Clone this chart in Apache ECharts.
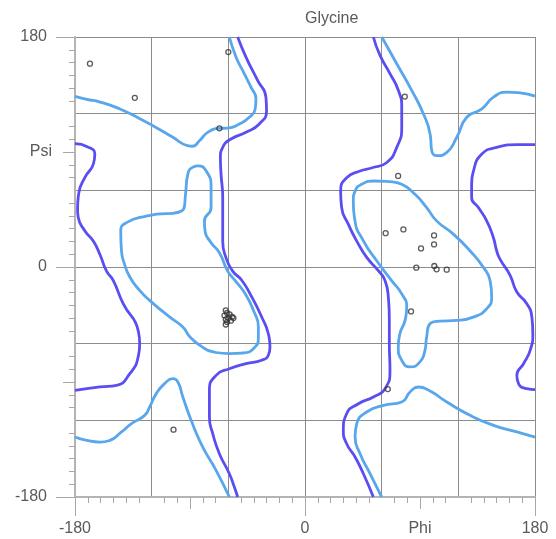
<!DOCTYPE html>
<html><head><meta charset="utf-8">
<script src="https://cdn.jsdelivr.net/npm/echarts@6/dist/echarts.min.js"></script>
<style>html,body{margin:0;padding:0;background:#fff}#c{width:556px;height:539px}</style>
</head><body><div id="c"></div>
<script>
const titleText = 'Glycine';
const xName = 'Phi';
const yName = 'Psi';
const endLabels = [-180, 0, 180];

// contours, [phi, psi] in degrees
const lightUpperLeft = [[-180,133.5],[-170.8,131.2],[-160.4,129.1],[-144.9,123.7],[-132,117.5],[-119.0,110.6],[-103.4,101.5],[-92,95],[-88,94.5],[-82.6,98.8],[-76.1,105.4],[-67,108.5],[-60.5,108.7],[-51.4,111.9],[-43.6,117.2],[-39.0,123.7],[-38.4,131.6],[-42.3,140.7],[-48.8,153.8],[-54.0,164.3],[-59.2,180]];
const lightLowerLeft = [[-180,-133.1],[-170.9,-135.7],[-160.5,-137.0],[-152.7,-135.7],[-143.6,-129.1],[-135.8,-122.6],[-125.5,-116.1],[-121.6,-109.6],[-116.4,-99.1],[-109.9,-91.3],[-103.4,-87.4],[-99.5,-90.0],[-95.6,-101.7],[-89.1,-120.0],[-80.0,-140.9],[-69.6,-159.1],[-59.2,-180]];
const lightAlphaR = [[-108.6,41.8],[-95.1,45.2],[-93.5,57.0],[-91.7,72.7],[-87,78.5],[-83.9,79.2],[-77.4,75.3],[-73.5,62.2],[-73.5,46.5],[-78.7,36.0],[-78.2,28.2],[-73.5,19.0],[-67.0,11.2],[-60.5,-3.2],[-54.8,-10.4],[-46.9,-20.8],[-40.4,-33.9],[-36.5,-47.0],[-36.5,-56.0],[-40.4,-63.9],[-48.3,-67.3],[-58.7,-67.8],[-71.8,-66.5],[-82.2,-61.3],[-90.0,-54.8],[-95.6,-47.0],[-106.0,-39.1],[-121.6,-26.1],[-129.4,-18.3],[-137.1,-7.8],[-141.5,3],[-143.6,12.5],[-144.2,28.2],[-139.7,34.7],[-124.2,39.9],[-108.6,41.8]];
const darkLeftMain = [[-52.7,180],[-46.2,164.3],[-37.1,146.0],[-30.6,132.9],[-30.1,122.4],[-35.8,111.9],[-46.2,105.4],[-57.9,100.2],[-64.4,93.6],[-66.2,85.8],[-65.7,72.7],[-64.4,54.3],[-64.4,36.0],[-64.4,20.3],[-61.8,7.2],[-56.6,-3.2],[-49.5,-10.4],[-41.7,-23.4],[-33.9,-39.1],[-28.7,-52.2],[-27.4,-62.6],[-28.7,-69.1],[-33.9,-73.0],[-46.2,-75.7],[-59.2,-79.6],[-69.6,-84.8],[-74.8,-96.5],[-74.8,-117.4],[-72.2,-130.4],[-67.0,-146.1],[-59.2,-161.8],[-55.3,-172.2],[-52.7,-180]];
const darkLeftEdge = [[-180,96.5],[-170,94],[-164.5,88.5],[-165.5,81],[-172,70.5],[-177,58],[-178,45],[-177.4,38.6],[-172.2,28.2],[-165.7,20.3],[-160.5,9.8],[-155.3,-3.2],[-150.1,-10.4],[-142.3,-28.7],[-130.6,-49.6],[-129.4,-60.0],[-130.6,-70.4],[-137.1,-83.5],[-147.5,-92.6],[-160.5,-93.9],[-180,-96.5]];
const darkRightMain = [[53.5,180],[58.7,165.6],[66.6,151.2],[73.1,138.1],[75.7,125.0],[75.7,109.3],[71.8,93.6],[64.0,81.8],[52,77.5],[43.0,75.1],[32.6,69.9],[27.9,59.5],[28.7,46.5],[33.9,33.5],[40.4,20.5],[48.3,7.5],[57.4,-2.9],[62.6,-10.6],[65.2,-23.6],[66.0,-41.8],[66.0,-60.0],[66.5,-80.8],[62.7,-95.2],[53.5,-101.7],[41.8,-107.0],[32.6,-114.8],[30.0,-127.8],[32.6,-138.3],[39.2,-148.7],[45.7,-161.8],[53.5,-180]];
const lightUpperRight = [[60.1,180],[71.8,159.1],[83.6,138.1],[92.7,119.8],[97.9,104.1],[99.2,91.0],[103.1,87.1],[111.0,89.7],[118.8,101.5],[126.6,117.2],[138.4,123.7],[147.5,132.9],[158.0,136.8],[168.4,136.3],[180,133.7]];
const lightLowerRight = [[180,-133.1],[165.8,-129.1],[147.5,-123.9],[129.2,-116.1],[111.0,-105.7],[97.9,-97.1],[88.8,-93.9],[82.2,-97.8],[75.7,-105.7],[61.4,-108.3],[48.3,-113.5],[40.5,-122.6],[39.2,-133.1],[43.1,-146.1],[50.9,-161.8],[58.7,-177.4],[60.1,-180]];
const lightAlphaL = [[105.7,-42.3],[118.7,-41.8],[131.7,-39.2],[142.2,-32.7],[146.1,-23.6],[144.8,-10.6],[139.6,-0.3],[129.1,12.7],[116.1,25.7],[103.0,36.1],[95.2,46.5],[86.1,56.9],[75.7,64.7],[66.5,66.8],[53.5,67.3],[44.3,64.7],[39.5,60],[37.8,51.7],[39.1,36.1],[45.7,20.5],[56.1,4.9],[67.8,-10.6],[75.7,-21.0],[79.6,-31.4],[78.3,-41.8],[74.3,-52.2],[73.0,-62.6],[75.7,-73.0],[82.2,-78.2],[88.7,-75.6],[93.9,-65.2],[95.2,-54.8],[97.8,-44.4],[105.7,-42.3]];
const darkRightEdge = [[180,95.7],[165.8,95.7],[150.1,93.6],[138.4,88.4],[131.9,75.3],[130.4,64.7],[130.4,54.3],[135.7,46.5],[142.2,36.1],[147.4,23.1],[150.0,12.7],[152.6,6.2],[160.5,-6.5],[165.8,-19.6],[173.6,-28.7],[177.5,-39.1],[178.3,-52.2],[176.2,-65.2],[171.0,-75.7],[165.8,-84.8],[167.1,-91.3],[173.6,-95.2],[180,-96.0]];

// observed residues [phi, psi]
const residues = [[-168.3,159.1],[-133.2,132.4],[-60.0,168.2],[-67.0,108.5],[-102.9,-127.3],
  [-62,-34],[-61,-36],[-63,-38],[-59,-37],[-57,-39],[-60,-40],[-62,-41],[-58,-42],[-61,-43],[-62,-45],[-56,-40],
  [78.1,133.4],[72.9,71.3],[63.1,26.5],[77.0,29.4],[101.0,24.7],[101.0,17.7],[90.8,14.5],[87.1,-0.5],[101.2,0.8],[103.0,-1.8],[110.9,-2.1],[83.0,-34.8],[64.8,-95.5]];

const LIGHT = '#58a6ec', DARK = '#5a4ef2';
const FONT = '"Liberation Sans", Arial, sans-serif';
const TXT = '#5a5a5a';
const minorVals = [];
for (let v = -170; v < 180; v += 10) if (v % 60 !== 0) minorVals.push(v);

function ax(extra) {
  return Object.assign({
    type: 'value', min: -180, max: 180,
    axisLine: { show: false, onZero: false },
    axisTick: { show: false },
    axisLabel: { show: false },
    splitLine: { show: false }
  }, extra);
}
function axesFor(pos, nameLabel) {
  const isX = pos === 'bottom';
  const pad = isX ? 0 : [4, 0, 0, 0];
  return [
    ax({ position: pos, interval: 60, splitLine: { show: true, lineStyle: { color: '#8c8c8c', width: 1 } } }),
    ax({ position: pos, interval: 10,
      axisLine: { show: true, onZero: false, lineStyle: { color: '#b4b4b4', width: 2 } },
      axisTick: { show: true, length: 6, customValues: minorVals, lineStyle: { color: '#a8a8a8' } } }),
    ax({ position: pos, interval: 90,
      axisTick: { show: true, length: 12, lineStyle: { color: '#a8a8a8' } },
      axisLabel: { show: true, margin: isX ? 24 : 23, fontSize: 16, color: TXT, fontFamily: FONT, padding: pad,
        formatter: v => (v === 90 ? nameLabel : '') } }),
    ax({ position: pos, interval: 180,
      axisTick: { show: true, length: 19, lineStyle: { color: '#a8a8a8' } },
      axisLabel: { show: true, margin: isX ? 24 : 28, fontSize: 16, color: TXT, fontFamily: FONT, padding: pad,
        formatter: v => (endLabels.indexOf(v) >= 0 ? String(v) : '') } })
  ];
}

function contour(data, color) {
  return { type: 'line', data: data, smooth: 0.55, symbol: 'none', silent: true,
    lineStyle: { color: color, width: 2.8 }, xAxisIndex: 0, yAxisIndex: 0, z: 3 };
}

const chart = echarts.init(document.getElementById('c'));
chart.setOption({
  animation: false,
  title: { text: titleText, left: 305, top: 11, padding: 0,
    textStyle: { fontSize: 16, fontWeight: 'normal', color: TXT, fontFamily: FONT } },
  grid: { left: 75, right: 21, top: 37, bottom: 42, containLabel: false },
  xAxis: axesFor('bottom', xName),
  yAxis: axesFor('left', yName),
  series: [
    contour(lightUpperLeft, LIGHT),
    contour(lightLowerLeft, LIGHT),
    contour(lightAlphaR, LIGHT),
    contour(lightUpperRight, LIGHT),
    contour(lightLowerRight, LIGHT),
    contour(lightAlphaL, LIGHT),
    contour(darkLeftMain, DARK),
    contour(darkLeftEdge, DARK),
    contour(darkRightMain, DARK),
    contour(darkRightEdge, DARK),
    { type: 'scatter', data: residues, symbol: 'circle', symbolSize: 5, xAxisIndex: 0, yAxisIndex: 0, z: 5,
      itemStyle: { color: 'rgba(0,0,0,0)', borderColor: '#333', borderWidth: 1.3 } }
  ]
});
</script>
</body></html>
